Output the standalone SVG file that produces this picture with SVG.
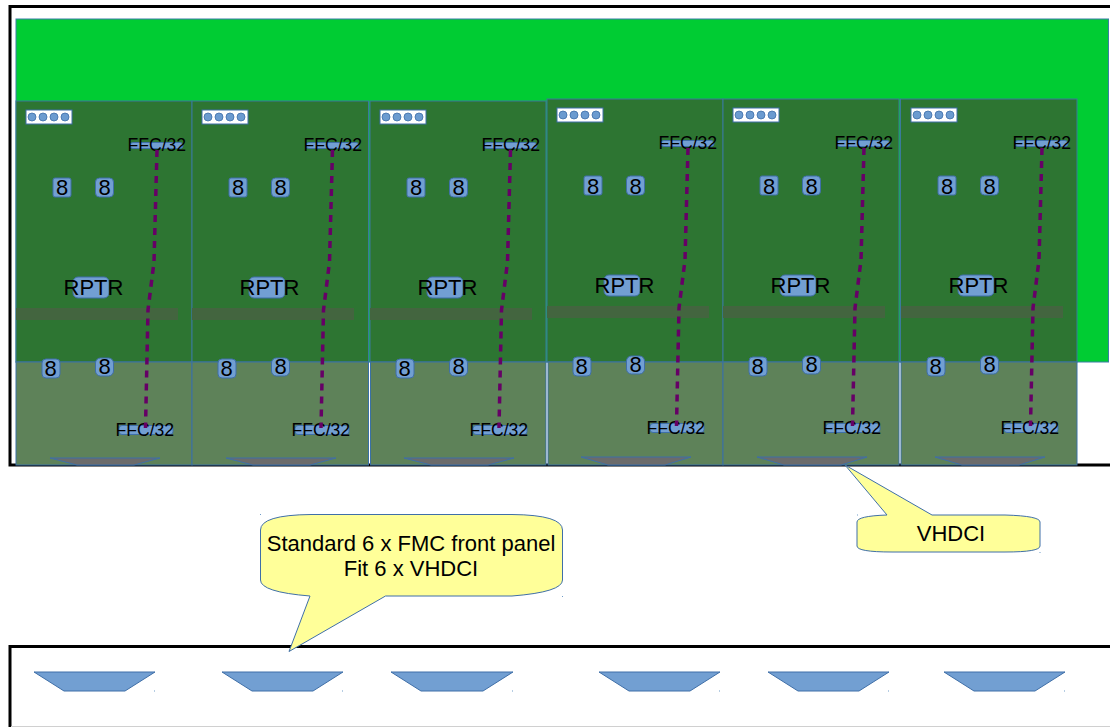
<svg xmlns="http://www.w3.org/2000/svg" width="1110" height="727" viewBox="0 0 1110 727">
<style>
text{font-family:"Liberation Sans",Arial,sans-serif;fill:#000}
.t{font-size:22px}
.f{font-size:17.6px}
.c{text-anchor:middle}
.frame{fill:none;stroke:#000;stroke-width:3}
.pcb{fill:#2d7532;stroke:#3a7a9a;stroke-width:1}
.low{fill:#5e8259;stroke:#3a70a5;stroke-width:1}
.bar{fill:#43653f}
.b{fill:#729fd2;stroke:#3f6fa8;stroke-width:1}
.w{fill:#fff;stroke:#3f6fa8;stroke-width:1}
.d{fill:#6b9bd0;stroke:#3f6fa8;stroke-width:.8}
.v{fill:#6b6b6b;stroke:#3f6fa8;stroke-width:1}
.tr{fill:#729fd2;stroke:#3f6fa8;stroke-width:1}
.call{fill:#ffff99;stroke:#3f6fa8;stroke-width:1}
.link{fill:none;stroke:#660066;stroke-width:3.5;stroke-dasharray:7 6}
.h{fill:#6f9bc8}
</style>
<defs>
<path id="link" class="link" d="M157 150 L154 262 L148 310 L145.500 428"/>
</defs>
<rect width="1110" height="727" fill="#fff"/>
<path class="frame" d="M1110 6.500 H10 V465 H1110"/>
<rect id="board" x="16" y="19" width="1092.500" height="343" fill="#00cc33" stroke="#3a7fa5" stroke-width="1"/>

<g id="module-1">
<rect class="pcb" x="16" y="101" width="176" height="261"/>
<rect class="low" x="16" y="362" width="176" height="103"/>
<rect class="bar" x="16" y="308" width="162" height="12"/>
<polygon class="v" points="50,458 160,458 134,465 77,465"/>
<rect class="w" x="26" y="110" width="46" height="14"/>
<circle class="d" cx="32" cy="117" r="4"/><circle class="d" cx="43" cy="117" r="4"/><circle class="d" cx="54" cy="117" r="4"/><circle class="d" cx="65" cy="117" r="4"/>
<rect class="b" x="130" y="142.500" width="53" height="6" rx="3"/><text class="f" x="127.500" y="151">FFC/32</text>
<rect class="b" x="53" y="178" width="18" height="19" rx="2"/><text class="t c" x="62" y="195">8</text>
<rect class="b" x="95.500" y="178" width="18" height="19" rx="4"/><text class="t c" x="104.500" y="195">8</text>
<rect class="b" x="73" y="277" width="36" height="21" rx="5"/><text class="t" x="63.500" y="295">RPTR</text>
<rect class="b" x="42" y="359" width="18" height="19" rx="4"/><text class="t c" x="50.500" y="376">8</text>
<rect class="b" x="95.500" y="358" width="18" height="18" rx="5"/><text class="t c" x="104.500" y="374">8</text>
<rect class="b" x="119" y="425.500" width="54" height="9" rx="3"/><text class="f" x="115.500" y="436">FFC/32</text>
</g>

<g id="module-2" transform="translate(176 0)">
<rect class="pcb" x="16" y="101" width="176.500" height="261"/>
<rect class="low" x="16" y="362" width="176.500" height="103"/>
<rect class="bar" x="16" y="308" width="162" height="12"/>
<polygon class="v" points="50,458 160,458 134,465 77,465"/>
<rect class="w" x="26" y="110" width="46" height="14"/>
<circle class="d" cx="32" cy="117" r="4"/><circle class="d" cx="43" cy="117" r="4"/><circle class="d" cx="54" cy="117" r="4"/><circle class="d" cx="65" cy="117" r="4"/>
<rect class="b" x="130" y="142.500" width="53" height="6" rx="3"/><text class="f" x="127.500" y="151">FFC/32</text>
<rect class="b" x="53" y="178" width="18" height="19" rx="2"/><text class="t c" x="62" y="195">8</text>
<rect class="b" x="95.500" y="178" width="18" height="19" rx="4"/><text class="t c" x="104.500" y="195">8</text>
<rect class="b" x="73" y="277" width="36" height="21" rx="5"/><text class="t" x="63.500" y="295">RPTR</text>
<rect class="b" x="42" y="359" width="18" height="19" rx="4"/><text class="t c" x="50.500" y="376">8</text>
<rect class="b" x="95.500" y="358" width="18" height="18" rx="5"/><text class="t c" x="104.500" y="374">8</text>
<rect class="b" x="119" y="425.500" width="54" height="9" rx="3"/><text class="f" x="115.500" y="436">FFC/32</text>
</g>

<g id="module-3" transform="translate(354 0)">
<rect class="pcb" x="16" y="101" width="176" height="261"/>
<rect class="low" x="16.500" y="362" width="175.500" height="103"/>
<rect class="bar" x="16" y="308" width="162" height="12"/>
<polygon class="v" points="50,458 160,458 134,465 77,465"/>
<rect class="w" x="26" y="110" width="46" height="14"/>
<circle class="d" cx="32" cy="117" r="4"/><circle class="d" cx="43" cy="117" r="4"/><circle class="d" cx="54" cy="117" r="4"/><circle class="d" cx="65" cy="117" r="4"/>
<rect class="b" x="130" y="142.500" width="53" height="6" rx="3"/><text class="f" x="127.500" y="151">FFC/32</text>
<rect class="b" x="53" y="178" width="18" height="19" rx="2"/><text class="t c" x="62" y="195">8</text>
<rect class="b" x="95.500" y="178" width="18" height="19" rx="4"/><text class="t c" x="104.500" y="195">8</text>
<rect class="b" x="73" y="277" width="36" height="21" rx="5"/><text class="t" x="63.500" y="295">RPTR</text>
<rect class="b" x="42" y="359" width="18" height="19" rx="4"/><text class="t c" x="50.500" y="376">8</text>
<rect class="b" x="95.500" y="358" width="18" height="18" rx="5"/><text class="t c" x="104.500" y="374">8</text>
<rect class="b" x="119" y="425.500" width="54" height="9" rx="3"/><text class="f" x="115.500" y="436">FFC/32</text>
</g>

<g id="module-4" transform="translate(531 -2)">
<rect class="pcb" x="16" y="101" width="176" height="263"/>
<rect class="low" x="17" y="364" width="175" height="103"/>
<rect class="bar" x="16" y="308" width="162" height="12"/>
<polygon class="v" points="50,459 160,459 134,467 77,467"/>
<rect class="w" x="26" y="110" width="46" height="14"/>
<circle class="d" cx="32" cy="117" r="4"/><circle class="d" cx="43" cy="117" r="4"/><circle class="d" cx="54" cy="117" r="4"/><circle class="d" cx="65" cy="117" r="4"/>
<rect class="b" x="130" y="142.500" width="53" height="6" rx="3"/><text class="f" x="127.500" y="151">FFC/32</text>
<rect class="b" x="53" y="178" width="18" height="19" rx="2"/><text class="t c" x="62" y="195.500">8</text>
<rect class="b" x="95.500" y="178" width="18" height="19" rx="4"/><text class="t c" x="104.500" y="195.500">8</text>
<rect class="b" x="73" y="277" width="36" height="21" rx="5"/><text class="t" x="63.500" y="295">RPTR</text>
<rect class="b" x="42" y="359" width="18" height="19" rx="4"/><text class="t c" x="50.500" y="376">8</text>
<rect class="b" x="95.500" y="358" width="18" height="18" rx="5"/><text class="t c" x="104.500" y="374">8</text>
<rect class="b" x="119" y="425.500" width="54" height="9" rx="3"/><text class="f" x="115.500" y="436">FFC/32</text>
</g>

<g id="module-5" transform="translate(707 -2)">
<rect class="pcb" x="16" y="101" width="176" height="263"/>
<rect class="low" x="16" y="364" width="176" height="103"/>
<rect class="bar" x="16" y="308" width="162" height="12"/>
<polygon class="v" points="50,459 160,459 134,467 77,467"/>
<rect class="w" x="26" y="110" width="46" height="14"/>
<circle class="d" cx="32" cy="117" r="4"/><circle class="d" cx="43" cy="117" r="4"/><circle class="d" cx="54" cy="117" r="4"/><circle class="d" cx="65" cy="117" r="4"/>
<rect class="b" x="130" y="142.500" width="53" height="6" rx="3"/><text class="f" x="127.500" y="151">FFC/32</text>
<rect class="b" x="53" y="178" width="18" height="19" rx="2"/><text class="t c" x="62" y="195.500">8</text>
<rect class="b" x="95.500" y="178" width="18" height="19" rx="4"/><text class="t c" x="104.500" y="195.500">8</text>
<rect class="b" x="73" y="277" width="36" height="21" rx="5"/><text class="t" x="63.500" y="295">RPTR</text>
<rect class="b" x="42" y="359" width="18" height="19" rx="4"/><text class="t c" x="50.500" y="376">8</text>
<rect class="b" x="95.500" y="358" width="18" height="18" rx="5"/><text class="t c" x="104.500" y="374">8</text>
<rect class="b" x="119" y="425.500" width="54" height="9" rx="3"/><text class="f" x="115.500" y="436">FFC/32</text>
</g>

<g id="module-6" transform="translate(885 -2)">
<rect class="pcb" x="15.500" y="101" width="176.500" height="263"/>
<rect class="low" x="16" y="364" width="176" height="103"/>
<rect class="bar" x="16" y="308" width="162" height="12"/>
<polygon class="v" points="50,459 160,459 134,467 77,467"/>
<rect class="w" x="26" y="110" width="46" height="14"/>
<circle class="d" cx="32" cy="117" r="4"/><circle class="d" cx="43" cy="117" r="4"/><circle class="d" cx="54" cy="117" r="4"/><circle class="d" cx="65" cy="117" r="4"/>
<rect class="b" x="130" y="142.500" width="53" height="6" rx="3"/><text class="f" x="127.500" y="151">FFC/32</text>
<rect class="b" x="53" y="178" width="18" height="19" rx="2"/><text class="t c" x="62" y="195.500">8</text>
<rect class="b" x="95.500" y="178" width="18" height="19" rx="4"/><text class="t c" x="104.500" y="195.500">8</text>
<rect class="b" x="73" y="277" width="36" height="21" rx="5"/><text class="t" x="63.500" y="295">RPTR</text>
<rect class="b" x="42" y="359" width="18" height="19" rx="4"/><text class="t c" x="50.500" y="376">8</text>
<rect class="b" x="95.500" y="358" width="18" height="18" rx="5"/><text class="t c" x="104.500" y="374">8</text>
<rect class="b" x="119" y="425.500" width="54" height="9" rx="3"/><text class="f" x="115.500" y="436">FFC/32</text>
</g>

<g id="connectors">
<use href="#link"/>
<use href="#link" x="175.500"/>
<use href="#link" x="353.500"/>
<use href="#link" x="531" y="-2"/>
<use href="#link" x="707" y="-2"/>
<use href="#link" x="885" y="-2"/>
</g>

<g id="front-panel">
<path class="frame" d="M1110 646.500 H10 V728"/>
<rect x="11" y="726" width="1099" height="1" fill="#d0d0d0"/>
<g id="vhdci-1"><polygon class="tr" points="34,672 155,672 125,691 64,691"/><rect class="h" x="154" y="690.500" width="1" height="1"/></g>
<g id="vhdci-2"><polygon class="tr" points="222,672 343,672 313,691 252,691"/><rect class="h" x="342" y="690.500" width="1" height="1"/></g>
<g id="vhdci-3"><polygon class="tr" points="391,672 513,672 483,691 421,691"/><rect class="h" x="512" y="690.500" width="1" height="1"/></g>
<g id="vhdci-4"><polygon class="tr" points="599,672 720,672 690,691 629,691"/><rect class="h" x="719" y="690.500" width="1" height="1"/></g>
<g id="vhdci-5"><polygon class="tr" points="768,672 889,672 859,691 798,691"/><rect class="h" x="888" y="690.500" width="1" height="1"/></g>
<g id="vhdci-6"><polygon class="tr" points="944,672 1065,672 1035,691 974,691"/><rect class="h" x="1064" y="690.500" width="1" height="1"/></g>
</g>

<g id="callout-vhdci">
<path class="call" d="M887 515 L845 465 L932 515 H1005 Q1040 516 1040 522 V546 Q1040 552 1005 552 H892 Q857 552 857 546 V522 Q857 516 887 515 Z"/>
<rect class="h" x="857" y="514.500" width="1" height="1"/><rect class="h" x="1039.500" y="552" width="1" height="1"/>
<text class="t c" x="951" y="541">VHDCI</text>
</g>

<g id="callout-panel">
<path class="call" d="M310 596 L289 651.500 L385.500 596 H512 Q562.500 592 562.500 580 V530 Q562.500 515 512 514.500 H311 Q260.500 515 260.500 530 V580 Q260.500 592 310 596 Z"/>
<rect class="h" x="260" y="514" width="1" height="1"/><rect class="h" x="562" y="596" width="1" height="1"/>
<text class="t c" x="411" y="551">Standard 6 x FMC front panel</text>
<text class="t c" x="411" y="576">Fit 6 x VHDCI</text>
</g>
</svg>
